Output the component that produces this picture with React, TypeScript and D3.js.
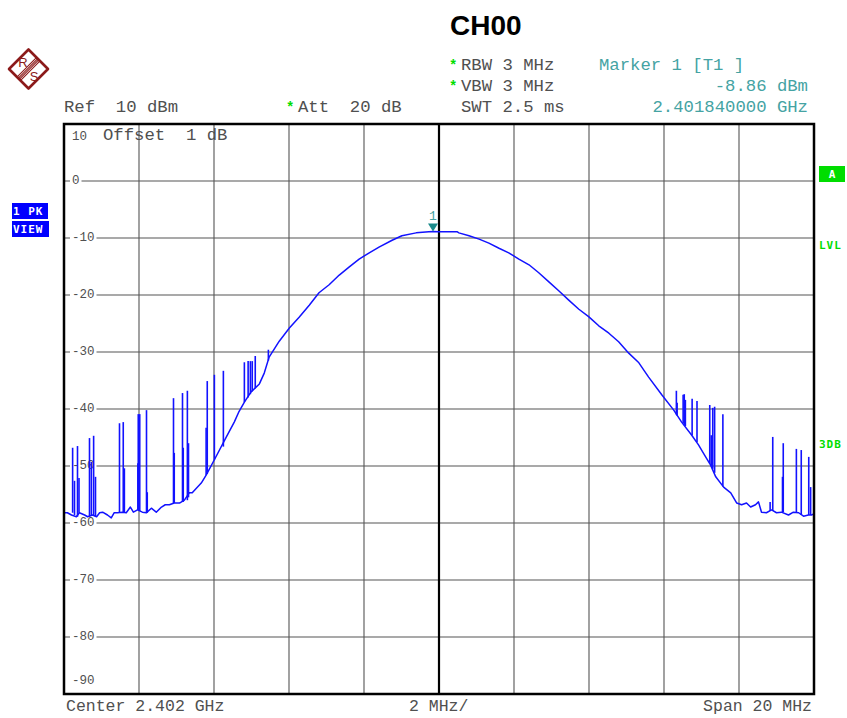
import React, { useEffect } from 'react';
import * as d3 from 'd3';

const W = 847;
const H = 718;

// trace: [offset from centre in MHz, level in dBm]
const trace: [number, number][] = [
  [-10.0, -58.3], [-9.99, -58.2], [-9.91, -58.2], [-9.80, -58.6], [-9.67, -58.9],
  [-9.59, -58.2], [-9.45, -58.6], [-9.37, -58.9], [-9.24, -58.6], [-9.13, -58.9],
  [-9.05, -58.2], [-8.97, -58.1], [-8.84, -58.6], [-8.74, -59.1], [-8.66, -58.2],
  [-8.58, -58.2], [-8.44, -58.1], [-8.34, -58.2], [-8.23, -57.2], [-8.15, -58.1],
  [-8.04, -57.7], [-7.91, -58.1], [-7.80, -58.2], [-7.67, -57.4], [-7.54, -58.1],
  [-7.40, -57.2], [-7.30, -56.8], [-7.19, -56.8], [-7.06, -56.5], [-6.92, -56.5],
  [-6.79, -56.0], [-6.66, -54.7], [-6.58, -54.7], [-6.47, -53.9], [-6.34, -53.0],
  [-6.21, -51.6], [-5.99, -48.9], [-5.67, -44.9], [-5.46, -42.3], [-5.33, -40.4],
  [-5.19, -38.8], [-5.01, -37.0], [-4.79, -35.6], [-4.66, -33.7], [-4.53, -30.9],
  [-4.26, -28.1], [-3.99, -25.8], [-3.73, -23.9], [-3.46, -21.8], [-3.20, -19.6],
  [-2.93, -18.2], [-2.66, -16.5], [-2.40, -15.1], [-2.13, -13.7], [-1.86, -12.6],
  [-1.60, -11.6], [-1.25, -10.4], [-0.99, -9.6], [-0.61, -9.1], [-0.27, -8.9],
  [-0.16, -8.86], [0.00, -8.9], [0.48, -8.9], [0.53, -9.1], [0.80, -9.6],
  [1.07, -10.2], [1.33, -10.9], [1.60, -11.8], [1.86, -12.6], [2.13, -13.7],
  [2.40, -14.7], [2.66, -16.1], [2.93, -17.7], [3.20, -19.3], [3.46, -20.9],
  [3.73, -22.5], [3.99, -23.8], [4.26, -25.4], [4.53, -26.7], [4.79, -28.2],
  [5.06, -30.2], [5.33, -31.9], [5.59, -34.4], [5.94, -37.5], [6.26, -40.2],
  [6.47, -42.3], [6.74, -44.6], [6.92, -46.3], [7.11, -48.4], [7.24, -49.8],
  [7.38, -51.9], [7.59, -53.7], [7.78, -54.7], [7.94, -56.5], [8.07, -56.8],
  [8.20, -56.5], [8.31, -57.2], [8.44, -56.8], [8.52, -56.3], [8.60, -58.1],
  [8.73, -58.2], [8.87, -57.7], [9.00, -58.2], [9.13, -58.1], [9.32, -58.6],
  [9.45, -58.1], [9.59, -58.2], [9.72, -58.8], [9.85, -58.6], [9.93, -58.6],
  [10.0, -58.4],
];

// narrow spurs on the skirts: [offset MHz, foot dBm, tip dBm]
const spurs: [number, number, number][] = [
  [-9.77, -58.2, -46.8], [-9.72, -58.6, -52.6], [-9.64, -58.9, -46.5], [-9.60, -58.2, -52.1],
  [-9.32, -58.9, -45.1], [-9.27, -58.6, -49.3], [-9.21, -58.6, -44.7], [-9.16, -58.9, -51.9],
  [-8.52, -58.2, -42.5], [-8.42, -58.1, -42.3], [-8.39, -58.2, -50.4],
  [-8.03, -57.7, -49.5], [-8.02, -57.7, -40.9], [-7.98, -57.9, -40.9],
  [-7.80, -58.2, -40.2], [-7.78, -58.2, -54.6],
  [-7.08, -56.5, -38.1], [-7.06, -56.5, -47.7], [-6.84, -56.3, -37.2], [-6.82, -56.3, -46.8],
  [-6.71, -56.0, -36.8], [-6.68, -55.5, -46.0],
  [-6.21, -51.6, -43.3], [-6.18, -51.4, -35.1], [-5.99, -48.9, -34.0], [-5.75, -46.6, -33.3],
  [-5.19, -38.8, -31.8], [-5.09, -38.0, -31.6], [-5.03, -37.4, -31.6], [-4.98, -36.9, -31.6],
  [-4.90, -36.4, -30.7], [-4.55, -31.5, -29.6],
  [6.33, -41.0, -36.8], [6.35, -41.2, -38.9], [6.51, -42.5, -37.5], [6.54, -42.8, -37.4],
  [6.57, -43.0, -38.4], [6.75, -44.6, -38.2], [6.88, -45.8, -38.6],
  [7.22, -49.6, -39.3], [7.26, -50.0, -44.6], [7.30, -50.5, -39.8], [7.35, -51.2, -39.6],
  [7.57, -53.6, -40.9],
  [8.83, -57.9, -56.3], [8.90, -57.9, -44.9], [9.16, -58.1, -51.9], [9.18, -58.1, -46.0],
  [9.53, -58.2, -47.0], [9.66, -58.6, -47.2], [9.86, -58.6, -48.4], [9.91, -58.6, -53.7],
];

const levelGrid = [0, -10, -20, -30, -40, -50, -60, -70, -80];
const levelLabels = [0, -10, -20, -30, -40, -50, -60, -70, -80, -90];
const freqGrid = [-8, -6, -4, -2, 2, 4, 6, 8];

const markerMHz = -0.16;
const markerDbm = -8.86;

const MONO = "'Liberation Mono', 'Courier New', monospace";
const TXT = '#505050';
const TEAL = '#45a3a3';
const GREEN = '#00dd00';
const BLUE = '#1212ff';

const App: React.FC = () => {
  useEffect(() => {
    document.body.style.margin = '0';
  }, []);

  const x = d3.scaleLinear().domain([-10, 10]).range([64, 814]);
  const y = d3.scaleLinear().domain([-90, 10]).range([694, 124]);

  const line = d3.line<[number, number]>()
    .x(d => x(d[0]))
    .y(d => y(d[1]))
    .curve(d3.curveLinear);

  const labelW = (s: string) => s.length * 7.5;

  // R&S logo geometry
  const cx = 28.5, cy = 69, r = 19.5;
  const k2 = Math.SQRT1_2;
  const stripes = [-2.4, -0.8, 0.8, 2.4].map(k => {
    const t = 13.2;
    return {
      x1: cx + (-t + k) * k2, y1: cy + (t + k) * k2,
      x2: cx + (t + k) * k2, y2: cy + (-t + k) * k2,
    };
  });

  return (
    <svg width={W} height={H} style={{ display: 'block', background: '#fff' }}>
      {/* logo */}
      <g stroke="#8b1a1a" fill="none" strokeLinejoin="round">
        <polygon
          points={`${cx},${cy - r} ${cx + r},${cy} ${cx},${cy + r} ${cx - r},${cy}`}
          strokeWidth={2.6}
        />
        {stripes.map((s, i) => (
          <line key={i} {...s} strokeWidth={1.1} />
        ))}
      </g>
      <text x={23} y={67} fontFamily="'Liberation Sans', Arial" fontSize={13} fill="#8b1a1a" textAnchor="middle">R</text>
      <text x={34} y={81} fontFamily="'Liberation Sans', Arial" fontSize={13} fill="#8b1a1a" textAnchor="middle">S</text>

      {/* title */}
      <text x={450} y={35} fontFamily="'Liberation Sans', Arial" fontWeight="bold" fontSize={28} fill="#000">CH00</text>

      {/* header */}
      <g fontFamily={MONO} fontSize={17.3} fill={TXT}>
        <text x={449} y={70} fill={GREEN} fontSize={14} fontWeight="bold">*</text>
        <text x={461} y={70}>RBW 3 MHz</text>
        <text x={449} y={91} fill={GREEN} fontSize={14} fontWeight="bold">*</text>
        <text x={461} y={91}>VBW 3 MHz</text>
        <text x={461} y={112}>SWT 2.5 ms</text>
        <text x={599} y={70} fill={TEAL}>Marker 1 [T1 ]</text>
        <text x={808} y={91} fill={TEAL} textAnchor="end">-8.86 dBm</text>
        <text x={808} y={112} fill={TEAL} textAnchor="end">2.401840000 GHz</text>
        <text x={64} y={112} xmlSpace="preserve">Ref  10 dBm</text>
        <text x={286} y={112} fill={GREEN} fontSize={14} fontWeight="bold">*</text>
        <text x={298} y={112} xmlSpace="preserve">Att  20 dB</text>
      </g>

      {/* side badges */}
      <rect x={12} y={203} width={36} height={16} fill="#0000ff" />
      <rect x={12} y={221} width={37} height={16} fill="#0000ff" />
      <g fontFamily="'DejaVu Sans Mono', monospace" fontWeight="bold" fontSize={11} fill="#fff">
        <text x={13} y={215} xmlSpace="preserve" letterSpacing={1}>1 PK</text>
        <text x={13} y={233} letterSpacing={1}>VIEW</text>
      </g>
      <rect x={819} y={166} width={26} height={16} fill={GREEN} />
      <g fontFamily="'DejaVu Sans Mono', monospace" fontWeight="bold" fontSize={11}>
        <text x={832} y={178} fill="#fff" textAnchor="middle">A</text>
        <text x={819} y={249} fill={GREEN} letterSpacing={1}>LVL</text>
        <text x={819} y={448} fill={GREEN} letterSpacing={1}>3DB</text>
      </g>

      {/* grid */}
      <g stroke="#555" strokeWidth={1.1}>
        {levelGrid.map(v => (
          <line key={v} x1={64} x2={814} y1={y(v)} y2={y(v)} />
        ))}
        {freqGrid.map(v => (
          <line key={v} x1={x(v)} x2={x(v)} y1={124} y2={694} />
        ))}
      </g>
      <line x1={x(0)} x2={x(0)} y1={124} y2={694} stroke="#000" strokeWidth={2.2} />

      {/* level labels */}
      <g fontFamily={MONO} fontSize={12.5} fill={TXT}>
        {levelLabels.map(v => {
          const s = `${v}`;
          return (
            <g key={v}>
              {v !== -90 && (
                <rect x={70} y={y(v) - 5} width={labelW(s) + 4} height={10} fill="#fff" />
              )}
              <text x={72} y={y(v) - (v === -90 ? 13 : 0)} dominantBaseline="central">{s}</text>
            </g>
          );
        })}
        <text x={72} y={140}>10</text>
      </g>
      <text x={103} y={140} fontFamily={MONO} fontSize={17.3} fill={TXT} xmlSpace="preserve">Offset  1 dB</text>

      {/* trace */}
      <path d={line(trace) ?? ''} fill="none" stroke={BLUE} strokeWidth={1.5} strokeLinejoin="round" />
      <g stroke={BLUE} strokeWidth={1.6}>
        {spurs.map((s, i) => (
          <line key={i} x1={x(s[0])} x2={x(s[0])} y1={y(s[1])} y2={y(s[2])} />
        ))}
      </g>

      {/* marker */}
      <path
        d={`M${x(markerMHz) - 5},${y(markerDbm) - 8} L${x(markerMHz) + 5},${y(markerDbm) - 8} L${x(markerMHz)},${y(markerDbm)} Z`}
        fill="#1b8a8a"
      />
      <text x={x(markerMHz)} y={y(markerDbm) - 12} fontFamily={MONO} fontSize={13} fill={TEAL} textAnchor="middle">1</text>

      {/* frame */}
      <rect x={64} y={124} width={750} height={570} fill="none" stroke="#000" strokeWidth={2.5} />

      {/* footer */}
      <g fontFamily={MONO} fontSize={16.5} fill={TXT}>
        <text x={66} y={711}>Center 2.402 GHz</text>
        <text x={409} y={711}>2 MHz/</text>
        <text x={812} y={711} textAnchor="end">Span 20 MHz</text>
      </g>
    </svg>
  );
};

export default App;
